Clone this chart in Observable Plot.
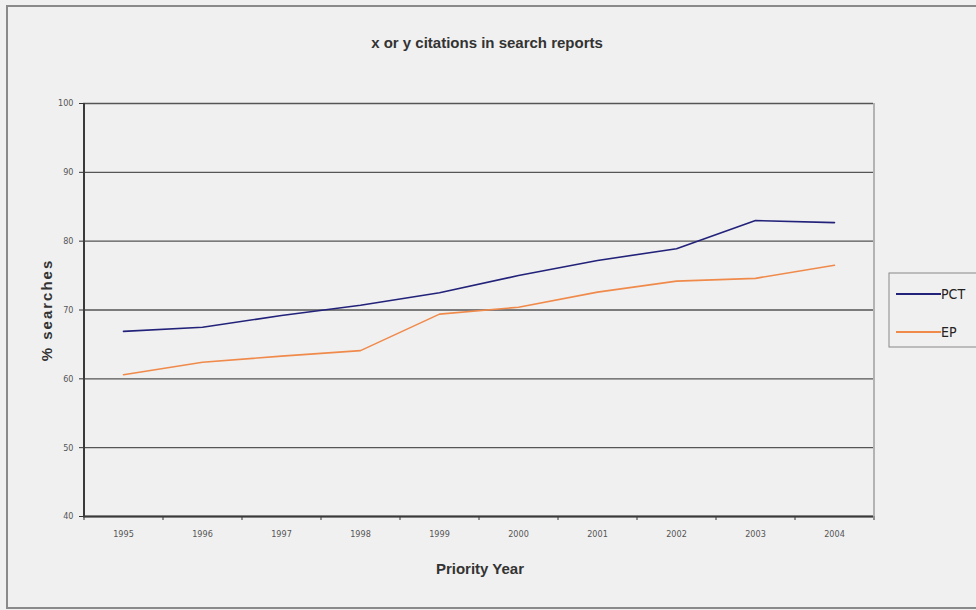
<!DOCTYPE html>
<html>
<head>
<meta charset="utf-8">
<script src="https://cdn.jsdelivr.net/npm/d3@7"></script>
<script src="https://cdn.jsdelivr.net/npm/@observablehq/plot@0.6"></script>
<style>
  html, body { margin: 0; padding: 0; background: #f0f0f0; }
  #chart { width: 976px; height: 610px; }
</style>
</head>
<body>
<div id="chart"></div>
<script>
// Priority years along the x axis
const years = ["1995", "1996", "1997", "1998", "1999", "2000", "2001", "2002", "2003", "2004"];
// Share of search reports with x or y citations (%)
const pctValues = [66.9, 67.5, 69.2, 70.7, 72.5, 75.0, 77.2, 78.9, 83.0, 82.7];
const epValues  = [60.6, 62.4, 63.3, 64.1, 69.4, 70.4, 72.6, 74.2, 74.6, 76.5];
const yTicks = [40, 50, 60, 70, 80, 90, 100];
const seriesNames = ["PCT", "EP"];
const seriesColors = ["#22227a", "#f08a4b"];

const rows = [
  ...years.map((y, i) => ({year: y, value: pctValues[i], series: "PCT"})),
  ...years.map((y, i) => ({year: y, value: epValues[i], series: "EP"}))
];

const W = 976, H = 610;
const mL = 83, mR = 103, mT = 103, mB = 94;
const step = (W - mL - mR) / years.length;
const narrow = "'DejaVu Sans Condensed', 'Liberation Sans Narrow', 'Liberation Sans', sans-serif";
const sans = "'Liberation Sans', Arial, sans-serif";

const chart = Plot.plot({
  width: W,
  height: H,
  marginLeft: mL,
  marginRight: mR,
  marginTop: mT,
  marginBottom: mB,
  style: {background: "transparent", fontFamily: narrow},
  x: {type: "point", domain: years, padding: 0.5, label: null},
  y: {domain: [40, 100], label: null},
  color: {domain: seriesNames, range: seriesColors},
  marks: [
    // horizontal gridlines
    Plot.ruleY(yTicks, {stroke: "#555", strokeWidth: 1.4}),
    // right edge of the plot frame
    Plot.ruleX([years[years.length - 1]], {dx: step / 2, y1: 40, y2: 100, stroke: "#777", strokeWidth: 1}),
    // category boundary ticks below the x axis
    Plot.ruleX(years, {x: d => d, y1: 40, y2: 40, dx: -step / 2, insetBottom: -4, stroke: "#333"}),
    Plot.ruleX([years[years.length - 1]], {y1: 40, y2: 40, dx: step / 2, insetBottom: -4, stroke: "#333"}),
    // data lines
    Plot.line(rows, {x: "year", y: "value", z: "series", stroke: "series", strokeWidth: 1.6}),
    // axes
    Plot.axisY(yTicks, {tickSize: 4, tickPadding: 6, fontSize: 9, fill: "#555", stroke: "#333", fontFamily: narrow}),
    Plot.ruleX([years[0]], {dx: -step / 2, y1: 40, y2: 100, stroke: "#3a3a3a", strokeWidth: 2}),
    Plot.ruleY([40], {stroke: "#3a3a3a", strokeWidth: 2}),
    Plot.axisX(years, {tickSize: 0, tickPadding: 14, fontSize: 9, fill: "#555", fontFamily: narrow})
  ]
});

document.getElementById("chart").appendChild(chart);

const svg = d3.select(chart);

// outer chart-area border
svg.insert("rect", ":first-child")
  .attr("x", 7).attr("y", 6).attr("width", 980).attr("height", 602)
  .attr("fill", "#f0f0f0").attr("stroke", "#8a8a8a").attr("stroke-width", 2);

// title
svg.append("text")
  .attr("x", 487).attr("y", 48)
  .attr("text-anchor", "middle")
  .attr("font-family", sans).attr("font-size", 15).attr("font-weight", "bold").attr("fill", "#333")
  .text("x or y citations in search reports");

// axis titles
svg.append("text")
  .attr("x", 480).attr("y", 574)
  .attr("text-anchor", "middle")
  .attr("font-family", sans).attr("font-size", 15).attr("font-weight", "bold").attr("fill", "#333")
  .text("Priority Year");

svg.append("text")
  .attr("transform", "translate(52,310) rotate(-90)")
  .attr("text-anchor", "middle")
  .attr("font-family", sans).attr("font-size", 15).attr("font-weight", "bold")
  .attr("letter-spacing", 2).attr("fill", "#333")
  .text("% searches");

// legend
const legend = svg.append("g");
legend.append("rect")
  .attr("x", 889).attr("y", 273).attr("width", 100).attr("height", 74)
  .attr("fill", "#f0f0f0").attr("stroke", "#888").attr("stroke-width", 1);
seriesNames.forEach((name, i) => {
  const ly = 294 + i * 38;
  legend.append("line")
    .attr("x1", 896).attr("x2", 941).attr("y1", ly).attr("y2", ly)
    .attr("stroke", seriesColors[i]).attr("stroke-width", 2);
  legend.append("text")
    .attr("x", 941).attr("y", ly + 5)
    .attr("text-anchor", "start")
    .attr("font-family", narrow).attr("font-size", 14).attr("fill", "#222")
    .text(name);
});
</script>
</body>
</html>
